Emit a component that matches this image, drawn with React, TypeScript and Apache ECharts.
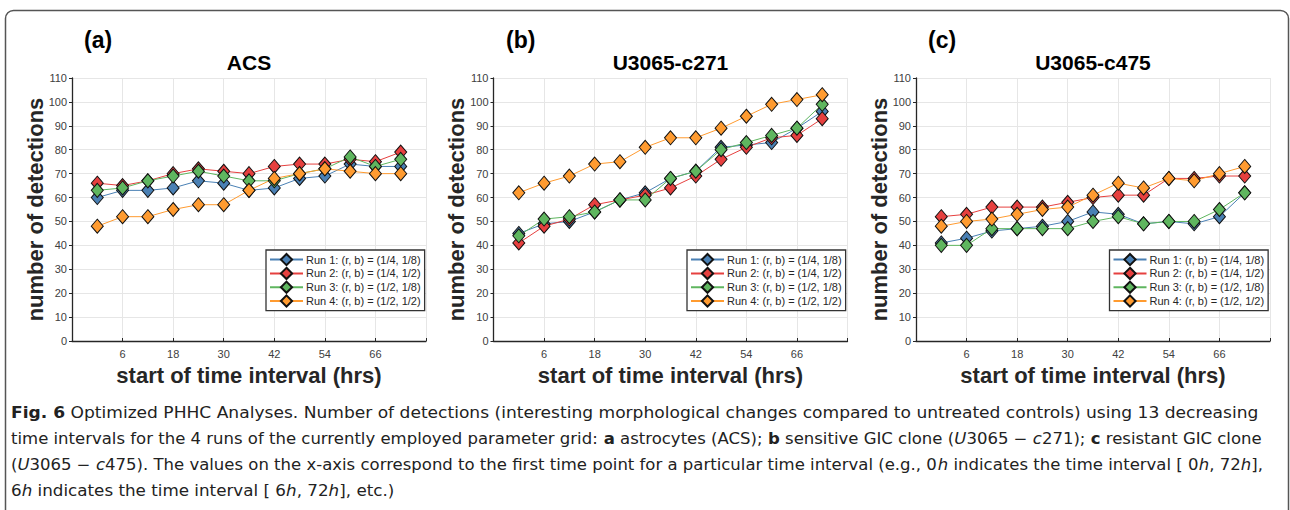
import React, { useEffect, useRef } from "react";
import * as echarts from "echarts";

// ---- data ----
const hours = [0, 6, 12, 18, 24, 30, 36, 42, 48, 54, 60, 66, 72];
const runNames = [
  "Run 1: (r, b) = (1/4, 1/8)",
  "Run 2: (r, b) = (1/4, 1/2)",
  "Run 3: (r, b) = (1/2, 1/8)",
  "Run 4: (r, b) = (1/2, 1/2)",
];
const runColors = ["#4a80b4", "#e6403f", "#5fb65f", "#ff9b30"];
const panelLabels = ["(a)", "(b)", "(c)"];
const panelTitles = ["ACS", "U3065-c271", "U3065-c475"];

const acsRun1 = [60, 63, 63, 64, 67, 66, 63, 64, 68, 69, 74, 73, 73];
const acsRun2 = [66, 65, 67, 70, 72, 71, 70, 73, 74, 74, 76, 75, 79];
const acsRun3 = [63, 64, 67, 69, 71, 69, 67, 67, 70, 72, 77, 73, 76];
const acsRun4 = [48, 52, 52, 55, 57, 57, 63, 68, 70, 72, 71, 70, 70];

const c271Run1 = [45, 49, 50, 54, 59, 62, 68, 71, 81, 82, 83, 89, 96];
const c271Run2 = [41, 48, 51, 57, 59, 61, 64, 69, 76, 81, 85, 86, 93];
const c271Run3 = [44, 51, 52, 54, 59, 59, 68, 71, 80, 83, 86, 89, 99];
const c271Run4 = [62, 66, 69, 74, 75, 81, 85, 85, 89, 94, 99, 101, 103];

const c475Run1 = [41, 43, 46, 47, 48, 50, 54, 53, 49, 50, 49, 52, 62];
const c475Run2 = [52, 53, 56, 56, 56, 58, 60, 61, 61, 68, 68, 69, 69];
const c475Run3 = [40, 40, 47, 47, 47, 47, 50, 52, 49, 50, 50, 55, 62];
const c475Run4 = [48, 50, 51, 53, 55, 56, 61, 66, 64, 68, 67, 70, 73];

const panelData = [
  [acsRun1, acsRun2, acsRun3, acsRun4],
  [c271Run1, c271Run2, c271Run3, c271Run4],
  [c475Run1, c475Run2, c475Run3, c475Run4],
];

const xMin = -6;
const xMax = 78;
const xInterval = 12;
const yMin = 0;
const yMax = 110;
const yInterval = 10;

const yAxisName = "number of detections";
const xAxisName = "start of time interval (hrs)";

const captionLines = [
  "{b|Fig. 6} Optimized PHHC Analyses. Number of detections (interesting morphological changes compared to untreated controls) using 13 decreasing",
  "time intervals for the 4 runs of the currently employed parameter grid: {b|a} astrocytes (ACS); {b|b} sensitive GIC clone ({i|U}3065 − {i|c}271); {b|c} resistant GIC clone",
  "({i|U}3065 − {i|c}475). The values on the x-axis correspond to the first time point for a particular time interval (e.g., 0{i|h} indicates the time interval [ 0{i|h}, 72{i|h}],",
  "6{i|h} indicates the time interval [ 6{i|h}, 72{i|h}], etc.)",
];

const FONT = "Liberation Sans, Arial, sans-serif";
const CAP_FONT = "DejaVu Sans, sans-serif";

export default function App() {
  const ref = useRef<HTMLDivElement>(null);
  useEffect(() => {
    document.body.style.margin = "0";
    const chart = echarts.init(ref.current!, null, { renderer: "svg" });
    const grids = [
      { left: 72, top: 78, width: 354, height: 263 },
      { left: 493.5, top: 78, width: 354, height: 263 },
      { left: 916, top: 78, width: 354, height: 263 },
    ];
    const legendLefts = [266, 687, 1109.5];

    const xAxes = grids.map((_, i) => ({
      type: "value",
      gridIndex: i,
      min: xMin,
      max: xMax,
      interval: xInterval,
      axisLine: { onZero: false, lineStyle: { color: "#262626", width: 1.3 } },
      axisTick: { show: true, length: 3, inside: true, lineStyle: { color: "#262626" } },
      axisLabel: {
        color: "#404040",
        fontSize: 11,
        fontFamily: FONT,
        margin: 7,
        formatter: (v: number) => (v === xMin || v === xMax ? "" : String(v)),
      },
      splitLine: { show: true, lineStyle: { color: "#e6e6e6", width: 1 } },
    }));
    const yAxes = grids.map((_, i) => ({
      type: "value",
      gridIndex: i,
      min: yMin,
      max: yMax,
      interval: yInterval,
      axisLine: { show: true, onZero: false, lineStyle: { color: "#262626", width: 1.3 } },
      axisTick: { show: true, length: 3, lineStyle: { color: "#262626" } },
      axisLabel: { color: "#404040", fontSize: 11, fontFamily: FONT, margin: 5 },
      splitLine: { show: true, lineStyle: { color: "#e6e6e6", width: 1 } },
    }));

    const series: any[] = [];
    panelData.forEach((runs, p) => {
      runs.forEach((vals, r) => {
        series.push({
          type: "line",
          name: runNames[r],
          xAxisIndex: p,
          yAxisIndex: p,
          data: vals.map((v, k) => [hours[k], v]),
          symbol: "diamond",
          symbolSize: [12, 14],
          color: runColors[r],
          lineStyle: { color: runColors[r], width: 1 },
          itemStyle: { color: runColors[r], borderColor: "#111", borderWidth: 1 },
          emphasis: { disabled: true },
        });
      });
    });

    const legends = legendLefts.map((left) => ({
      show: true,
      left,
      top: 250,
      orient: "vertical",
      itemWidth: 33,
      itemHeight: 14,
      itemGap: 0.6,
      padding: [3, 4, 3, 3],
      borderColor: "#333",
      borderWidth: 1.3,
      backgroundColor: "#fff",
      selectedMode: false,
      textStyle: { fontSize: 11, color: "#262626", fontFamily: FONT, padding: [0, 0, 0, -2] },
      data: runNames,
    }));

    const graphics: any[] = [
      {
        type: "rect",
        shape: { x: 5.5, y: 10.5, width: 1283, height: 540, r: 8 },
        style: { fill: "none", stroke: "#555", lineWidth: 1.5 },
        silent: true,
        z: 0,
      },
    ];
    const panelLabelX = [84, 506, 928];
    grids.forEach((g, i) => {
      const cx = g.left + g.width / 2;
      const cy = g.top + g.height / 2;
      graphics.push({
        type: "text",
        x: panelLabelX[i],
        y: 40,
        style: {
          text: panelLabels[i],
          font: `bold 23px ${FONT}`,
          fill: "#000",
          textAlign: "left",
          textVerticalAlign: "middle",
        },
      });
      graphics.push({
        type: "text",
        x: cx,
        y: 62,
        style: {
          text: panelTitles[i],
          font: `bold 21px ${FONT}`,
          fill: "#000",
          textAlign: "center",
          textVerticalAlign: "middle",
        },
      });
      graphics.push({
        type: "text",
        x: cx,
        y: 375,
        style: {
          text: xAxisName,
          font: `bold 22px ${FONT}`,
          fill: "#262626",
          textAlign: "center",
          textVerticalAlign: "middle",
        },
      });
      graphics.push({
        type: "text",
        x: g.left - 37,
        y: cy,
        rotation: Math.PI / 2,
        style: {
          text: yAxisName,
          font: `bold 22px ${FONT}`,
          fill: "#262626",
          textAlign: "center",
          textVerticalAlign: "middle",
        },
      });
    });
    const capY = [413, 439, 465, 491];
    const capScale = [1.103, 1.066, 1.066, 1.08];
    captionLines.forEach((line, i) => {
      graphics.push({
        type: "text",
        x: 11,
        y: capY[i],
        scaleX: capScale[i],
        style: {
          text: line,
          fontSize: 15.5,
          fontFamily: CAP_FONT,
          fill: "#222",
          textAlign: "left",
          textVerticalAlign: "middle",
          rich: {
            b: { fontWeight: "bold", fontSize: 15.5, fontFamily: CAP_FONT, fill: "#222" },
            i: { fontStyle: "italic", fontSize: 15.5, fontFamily: CAP_FONT, fill: "#222" },
          },
        },
      });
    });

    chart.setOption({
      animation: false,
      backgroundColor: "#fff",
      grid: grids.map((g) => ({ ...g, containLabel: false })),
      xAxis: xAxes,
      yAxis: yAxes,
      legend: legends,
      series,
      graphic: graphics,
    } as any);
    return () => chart.dispose();
  }, []);
  return (
    <div
      ref={ref}
      style={{ width: 1290, height: 510, position: "absolute", left: 0, top: 0 }}
    />
  );
}
